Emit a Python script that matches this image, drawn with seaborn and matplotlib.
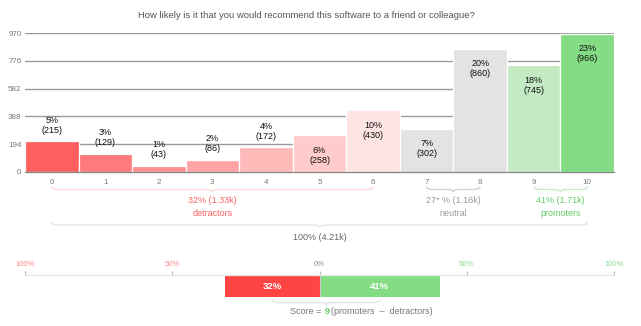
import numpy as np
import pandas as pd
import seaborn as sns
import matplotlib.pyplot as plt
import matplotlib.transforms as mtransforms
from matplotlib.path import Path
from matplotlib.patches import PathPatch

# ---------------- data ----------------
title = "How likely is it that you would recommend this software to a friend or colleague?"
scores = ["0", "1", "2", "3", "4", "5", "6", "7", "8", "9", "10"]
counts = [215, 129, 43, 86, 172, 258, 430, 302, 860, 745, 966]
pct_labels = ["5%", "3%", "1%", "2%", "4%", "6%", "10%", "7%", "20%", "18%", "23%"]
yticks = [0, 194, 388, 582, 776, 970]

group_names = ["detractors", "neutral", "promoters"]
group_first = [0, 7, 9]
group_last = [6, 8, 10]
group_pcts = ["32%", "27* %", "41%"]
group_totals = ["1.33k", "1.16k", "1.71k"]
total_label = "100% (4.21k)"

nps_detractors = 32
nps_promoters = 41
nps_score = 9
nps_ticks = [-100, -50, 0, 50, 100]
nps_tick_labels = ["100%", "50%", "0%", "50%", "100%"]

bar_colors = ["#ff5e5e", "#ff7a7a", "#ff9090", "#ffa4a4", "#ffb9b9", "#ffcbcb", "#ffe4e4",
              "#e3e3e3", "#e3e3e3", "#c3eac3", "#84dc84"]
group_text_colors = ["#ff6262", "#999999", "#66cc66"]
group_brace_colors = ["#ffd9d9", "#d2d2d2", "#c8ecc8"]

# ---------------- figure ----------------
sns.set_theme(style="white")
plt.rcParams["font.family"] = ["Liberation Sans", "DejaVu Sans"]

W, H = 641, 326
fig = plt.figure(figsize=(W / 100, H / 100), dpi=100)


def fy(py):
    return 1 - py / H


ax = fig.add_axes([25 / W, fy(172), 589 / W, 139 / H])
df = pd.DataFrame({"score": scores, "count": counts})
sns.barplot(data=df, x="score", y="count", hue="score", order=scores, hue_order=scores,
            palette=dict(zip(scores, bar_colors)), saturation=1, width=1,
            edgecolor="white", linewidth=0.9, legend=False, ax=ax)
ax.set_xlim(-0.5, 10.5)
ax.set_ylim(0, 970)
ax.set_yticks(yticks)
ax.set_xlabel("")
ax.set_ylabel("")
ax.set_axisbelow(True)
ax.yaxis.grid(True, color="#9a9a9a", lw=1)
ax.xaxis.grid(False)
for s in ["top", "left", "right"]:
    ax.spines[s].set_visible(False)
ax.spines["bottom"].set_color("#8a8a8a")
ax.spines["bottom"].set_linewidth(1)
ax.tick_params(axis="both", length=0, labelsize=5.8, labelcolor="#7a7a7a")
ax.tick_params(axis="x", pad=5)
ax.tick_params(axis="y", pad=2.5)

for i, (c, p) in enumerate(zip(counts, pct_labels)):
    if c > 240:
        offs = (-15, -25)
    else:
        offs = (21, 11)
    ax.annotate(p, (i, c), xytext=(0, offs[0]), textcoords="offset pixels",
                ha="center", va="center", fontsize=6.5, color="#111111")
    ax.annotate(f"({c})", (i, c), xytext=(0, offs[1]), textcoords="offset pixels",
                ha="center", va="center", fontsize=6.5, color="#111111")

trans = mtransforms.blended_transform_factory(ax.transData, fig.transFigure)


def brace(x0, x1, xc, ytop_px, color, tr, d, depth=3.0, tip=5.5, lw=1.0):
    y_t, y_m, y_b = fy(ytop_px), fy(ytop_px + depth), fy(ytop_px + tip)
    verts = [(x0, y_t), (x0, y_m), (x0 + d, y_m), (xc - d, y_m), (xc, y_m), (xc, y_b),
             (xc, y_m), (xc + d, y_m), (x1 - d, y_m), (x1, y_m), (x1, y_t)]
    codes = [Path.MOVETO, Path.CURVE3, Path.CURVE3, Path.LINETO, Path.CURVE3, Path.CURVE3,
             Path.CURVE3, Path.CURVE3, Path.LINETO, Path.CURVE3, Path.CURVE3]
    patch = PathPatch(Path(verts, codes), fill=False, edgecolor=color, lw=lw,
                      transform=tr, clip_on=False)
    fig.add_artist(patch)


for name, a, b, pc, tot, tc, bc in zip(group_names, group_first, group_last, group_pcts,
                                        group_totals, group_text_colors, group_brace_colors):
    xc = (a + b) / 2
    brace(a, b, xc, 186.5, bc, trans, 0.12)
    ax.text(xc, fy(200.5), f"{pc} ({tot})", transform=trans, ha="center", va="center",
            fontsize=6.5, color=tc)
    ax.text(xc, fy(213.5), name, transform=trans, ha="center", va="center",
            fontsize=6.5, color=tc)

brace(0, 10, 5, 222, "#e4e4e4", trans, 0.12)
ax.text(5, fy(237), total_label, transform=trans, ha="center", va="center",
        fontsize=6.5, color="#666666")

fig.text(306 / W, fy(15), title, ha="center", va="center", fontsize=6.8, color="#555555")

# ---------------- NPS bar ----------------
ax2 = fig.add_axes([25 / W, fy(296.5), 589 / W, 21.5 / H])
ax2.set_xlim(-100, 100)
ax2.set_ylim(0, 1.05)
ax2.barh([0, 0], [-nps_detractors, nps_promoters], height=1, align="edge",
         color=["#ff4444", "#84dc84"], edgecolor="none")
ax2.text(-nps_detractors / 2, 0.5, f"{nps_detractors}%", ha="center", va="center",
         color="white", fontsize=6.8, fontweight="bold")
ax2.text(nps_promoters / 2, 0.5, f"{nps_promoters}%", ha="center", va="center",
         color="white", fontsize=6.8, fontweight="bold")
ax2.axvline(0, ymin=0, ymax=1, color="#c8c8c8", lw=0.8)
for s in ["bottom", "left", "right"]:
    ax2.spines[s].set_visible(False)
ax2.spines["top"].set_color("#e6e6e6")
ax2.spines["top"].set_linewidth(1)
ax2.set_yticks([])
ax2.set_xticks(nps_ticks)
ax2.set_xticklabels(nps_tick_labels)
ax2.xaxis.set_ticks_position("top")
ax2.tick_params(axis="x", top=True, bottom=False, labeltop=True, labelbottom=False,
                length=3.2, width=0.8, color="#bbbbbb", labelsize=5.5, pad=1.5)
tick_cols = ["#ff8a8a", "#ff8a8a", "#888888", "#8fd88f", "#8fd88f"]
for lab, col in zip(ax2.get_xticklabels(), tick_cols):
    lab.set_color(col)

trans2 = mtransforms.blended_transform_factory(ax2.transData, fig.transFigure)
sx0 = -nps_detractors / 2
sx1 = nps_promoters / 2
sxc = (sx0 + sx1) / 2
brace(sx0, sx1, sxc, 299.5, "#e4e4e4", trans2, 2.5)
ax2.annotate("Score = ", (sxc, fy(312)), xycoords=trans2, xytext=(-2.5, 0),
             textcoords="offset pixels", ha="right", va="center", fontsize=6.5, color="#777777")
ax2.annotate(str(nps_score), (sxc, fy(312)), xycoords=trans2, xytext=(1, 0),
             textcoords="offset pixels", ha="center", va="center", fontsize=6.5,
             color="#66cc66", fontweight="bold")
ax2.annotate("(promoters  \u2013  detractors)", (sxc, fy(312)), xycoords=trans2,
             xytext=(5, 0), textcoords="offset pixels", ha="left", va="center",
             fontsize=6.5, color="#777777")

fig.savefig("out.png", dpi=100)
